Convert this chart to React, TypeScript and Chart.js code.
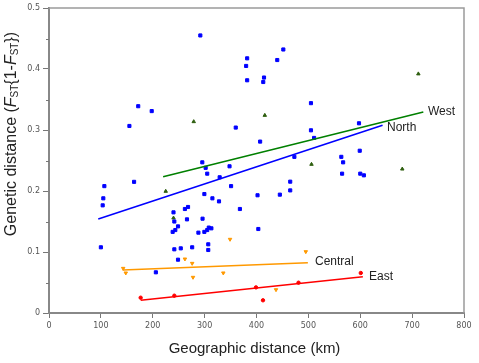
import React, { useEffect, useRef } from "react";
import { Chart, registerables } from "chart.js";

Chart.register(...registerables);

// North (blue squares)
const northX = [291.7, 382, 380, 382, 172, 198, 155, 360, 407, 295.5, 302, 348, 451.7, 440, 414.5, 413, 505, 505, 511, 597.6, 473, 563.5, 567, 599, 305, 329, 164, 106.7, 351, 104.7, 103.5, 299.5, 315, 327.7, 402, 368, 268, 262, 240, 241.6, 266, 296, 248.7, 243.5, 238.4, 288, 299.5, 305, 308, 313, 403.5, 100, 241.6, 254, 276, 307, 307, 248.7, 206, 565, 600, 607, 465, 465, 445];
const northY = [0.455, 0.4175, 0.405, 0.3815, 0.339, 0.331, 0.3066, 0.304, 0.281, 0.247, 0.238, 0.2405, 0.432, 0.4147, 0.386, 0.3787, 0.344, 0.2995, 0.287, 0.311, 0.256, 0.256, 0.247, 0.266, 0.2284, 0.2225, 0.215, 0.208, 0.208, 0.188, 0.1765, 0.195, 0.188, 0.183, 0.193, 0.1705, 0.1738, 0.1705, 0.165, 0.15, 0.1535, 0.1546, 0.142, 0.136, 0.133, 0.1317, 0.133, 0.136, 0.14, 0.1388, 0.1377, 0.1077, 0.1044, 0.106, 0.1077, 0.1126, 0.1033, 0.0874, 0.0667, 0.2284, 0.2284, 0.2257, 0.2153, 0.201, 0.194];

// West (green triangles)
const westX = [225, 240, 279, 416, 506, 681, 712];
const westY = [0.1995, 0.1557, 0.3137, 0.324, 0.2437, 0.236, 0.392];

// Central (orange inverted triangles)
const centralX = [143, 148, 262, 276, 277.6, 336, 349, 437.6, 495];
const centralY = [0.0732, 0.0656, 0.0885, 0.0814, 0.0585, 0.0656, 0.1208, 0.0382, 0.1005];

// East (red dots)
const eastX = [176.7, 241.6, 399, 412.5, 481, 601];
const eastY = [0.0251, 0.0284, 0.042, 0.0208, 0.0497, 0.0656];

// Regression lines: [x0, x1], [y0, y1]
const northLineX = [95, 643];
const northLineY = [0.154, 0.3077];
const westLineX = [220, 721.6];
const westLineY = [0.2235, 0.3295];
const centralLineX = [142, 499];
const centralLineY = [0.0705, 0.0825];
const eastLineX = [176.7, 605];
const eastLineY = [0.0208, 0.0595];

// Line labels
const labelNames = ["West", "North", "Central", "East"];
const labelX = [730.6, 651.6, 512.8, 616.9];
const labelY = [0.33, 0.3038, 0.0836, 0.059];

const xTitle = "Geographic distance (km)";

const pts = (xs: number[], ys: number[]) => xs.map((x, i) => ({ x, y: ys[i] }));

const overlayPlugin = {
  id: "overlay",
  afterDraw(chart: any) {
    const ctx = chart.ctx;
    const { left, right, top, bottom } = chart.chartArea;
    const xs = chart.scales.x;
    const ys = chart.scales.y;
    ctx.save();
    // box top/right
    ctx.strokeStyle = "#9a9a9a";
    ctx.lineWidth = 1.5;
    ctx.beginPath();
    ctx.moveTo(left, top);
    ctx.lineTo(right, top);
    ctx.lineTo(right, bottom);
    ctx.stroke();
    // minor y ticks
    ctx.strokeStyle = "#777";
    ctx.lineWidth = 1;
    for (let v = 0.05; v < 0.5; v += 0.1) {
      const py = Math.round(ys.getPixelForValue(v)) + 0.5;
      ctx.beginPath();
      ctx.moveTo(left - 3, py);
      ctx.lineTo(left, py);
      ctx.stroke();
    }
    // line labels
    ctx.fillStyle = "#222";
    ctx.font = "12px 'Liberation Sans', Arial, sans-serif";
    ctx.textBaseline = "middle";
    ctx.textAlign = "left";
    labelNames.forEach((n, i) => {
      ctx.fillText(n, xs.getPixelForValue(labelX[i]), ys.getPixelForValue(labelY[i]));
    });
    // x title
    ctx.font = "15px 'Liberation Sans', Arial, sans-serif";
    ctx.textAlign = "center";
    ctx.fillText(xTitle, (left + right) / 2 - 2, 349);
    // y title with italics/subscripts
    const main = "16px 'Liberation Sans', Arial, sans-serif";
    const ital = "italic 16px 'Liberation Sans', Arial, sans-serif";
    const sub = "10px 'Liberation Sans', Arial, sans-serif";
    const segs: [string, string, number][] = [
      ["Genetic distance (", main, 0],
      ["F", ital, 0],
      ["ST", sub, 3.5],
      ["{1-", main, 0],
      ["F", ital, 0],
      ["ST", sub, 3.5],
      ["})", main, 0],
    ];
    let total = 0;
    const widths = segs.map(([t, f]) => {
      ctx.font = f;
      const w = ctx.measureText(t).width;
      total += w;
      return w;
    });
    ctx.translate(12, 134);
    ctx.rotate(-Math.PI / 2);
    ctx.textAlign = "left";
    let cx = -total / 2;
    segs.forEach(([t, f, dy], i) => {
      ctx.font = f;
      ctx.fillText(t, cx, dy);
      cx += widths[i];
    });
    ctx.restore();
  },
};

export default function App() {
  const ref = useRef<HTMLCanvasElement>(null);
  useEffect(() => {
    document.body.style.margin = "0";
    const tickFont = { family: "'DejaVu Sans', Verdana, sans-serif", size: 8 };
    const chart = new Chart(ref.current!, {
      type: "scatter",
      data: {
        datasets: [
          { data: pts(northLineX, northLineY), showLine: true, borderColor: "#0000ff", borderWidth: 1.6, pointRadius: 0 },
          { data: pts(westLineX, westLineY), showLine: true, borderColor: "#008000", borderWidth: 1.6, pointRadius: 0 },
          { data: pts(centralLineX, centralLineY), showLine: true, borderColor: "#ff9900", borderWidth: 1.6, pointRadius: 0 },
          { data: pts(eastLineX, eastLineY), showLine: true, borderColor: "#ff0000", borderWidth: 1.6, pointRadius: 0 },
          { data: pts(northX, northY), pointStyle: "rect", pointRadius: 2.2, backgroundColor: "#0000ff", borderColor: "#0000ff", borderWidth: 1 },
          { data: pts(westX, westY), pointStyle: "triangle", pointRadius: 2.0, backgroundColor: "#2f5f10", borderColor: "#2f5f10", borderWidth: 1 },
          { data: pts(centralX, centralY), pointStyle: "triangle", rotation: 180, pointRadius: 2.0, backgroundColor: "#ff9900", borderColor: "#ff9900", borderWidth: 1 },
          { data: pts(eastX, eastY), pointStyle: "circle", pointRadius: 1.7, backgroundColor: "#ff0000", borderColor: "#ff0000", borderWidth: 1 },
        ],
      },
      options: {
        responsive: false,
        animation: false,
        layout: { padding: { top: 8, right: 15, left: 0, bottom: 0 } },
        plugins: { legend: { display: false }, tooltip: { enabled: false } },
        scales: {
          x: {
            type: "linear",
            min: 0,
            max: 800,
            afterFit: (s: any) => { s.height = 50; },
            ticks: { stepSize: 100, font: tickFont, color: "#555", padding: 3, maxRotation: 0 },
            grid: { drawOnChartArea: false, drawTicks: true, tickLength: 5, tickColor: "#777" },
            border: { display: true, color: "#888", width: 2 },
          },
          y: {
            type: "linear",
            min: 0,
            max: 0.5,
            afterFit: (s: any) => { s.width = 49; },
            ticks: {
              stepSize: 0.1,
              font: tickFont,
              color: "#555",
              padding: 3,
              callback: (v: any) => (Number(v) === 0 ? "0" : Number(v).toFixed(1)),
            },
            grid: { drawOnChartArea: false, drawTicks: true, tickLength: 6, tickColor: "#777" },
            border: { display: true, color: "#888", width: 2 },
          },
        },
      },
      plugins: [overlayPlugin],
    });
    return () => chart.destroy();
  }, []);
  return (
    <div style={{ position: "absolute", left: 0, top: 0, width: 479, height: 363, background: "#fff" }}>
      <canvas ref={ref} width={479} height={363} />
    </div>
  );
}
